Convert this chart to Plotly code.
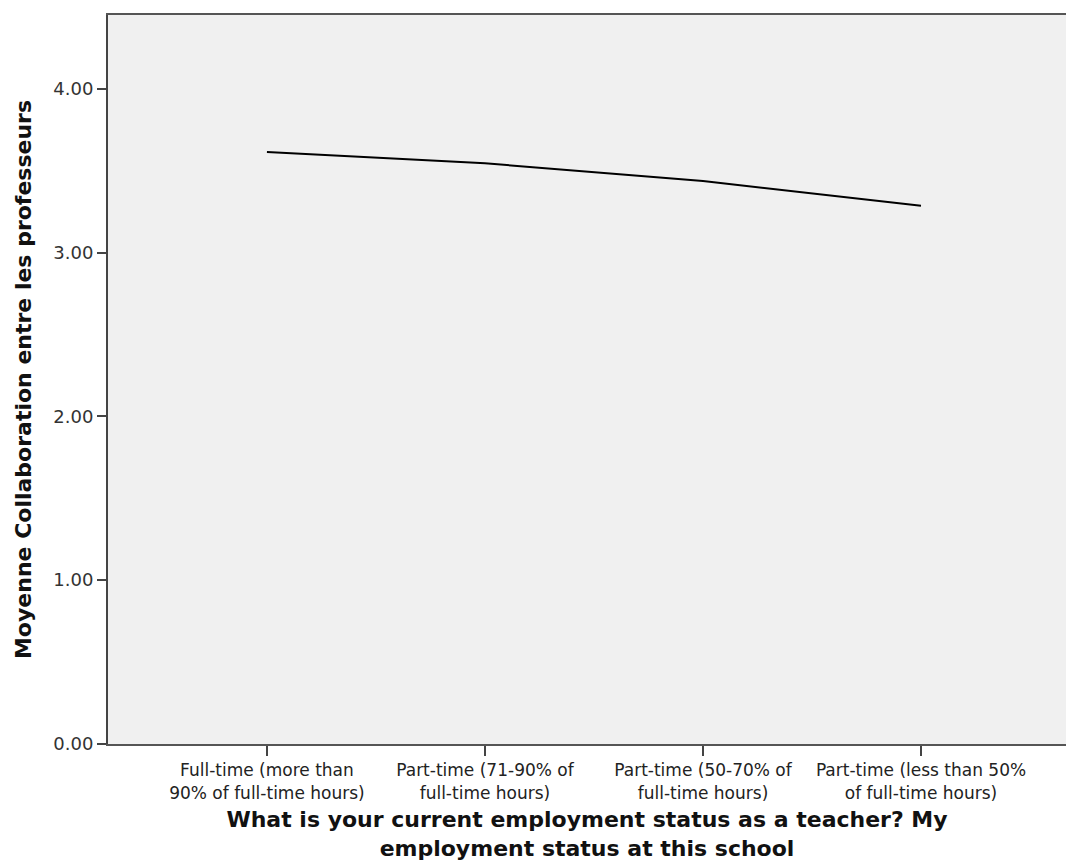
import plotly.graph_objects as go

categories = [
    "Full-time (more than<br>90% of full-time hours)",
    "Part-time (71-90% of<br>full-time hours)",
    "Part-time (50-70% of<br>full-time hours)",
    "Part-time (less than 50%<br>of full-time hours)",
]
means = [3.614, 3.545, 3.437, 3.285]
y_ticks = [0, 1, 2, 3, 4]
y_tick_labels = ["0.00", "1.00", "2.00", "3.00", "4.00"]

x_title = "What is your current employment status as a teacher? My<br>employment status at this school"
y_title = "Moyenne Collaboration entre les professeurs"

fig = go.Figure()
fig.add_trace(go.Scatter(
    x=list(range(len(categories))),
    y=means,
    mode="lines",
    line=dict(color="#000000", width=2),
    showlegend=False,
    hoverinfo="skip",
))

font_family = "DejaVu Sans"
fig.update_layout(
    width=1066,
    height=865,
    margin=dict(l=108, r=0, t=15, b=121),
    paper_bgcolor="white",
    plot_bgcolor="#f0f0f0",
    font=dict(family=font_family, color="#222222"),
    xaxis=dict(
        range=[-0.729, 3.665],
        tickmode="array",
        tickvals=list(range(len(categories))),
        ticktext=categories,
        ticks="outside",
        ticklen=10,
        tickwidth=2,
        tickcolor="#444444",
        tickfont=dict(size=17, family=font_family, color="#222222"),
        showline=True,
        linecolor="#555555",
        linewidth=2,
        mirror=True,
        showgrid=False,
        zeroline=False,
        title=dict(text="<b>" + x_title + "</b>",
                   font=dict(size=22, family=font_family, color="#111111"), standoff=10),
    ),
    yaxis=dict(
        range=[0, 4.45],
        tickmode="array",
        tickvals=y_ticks,
        ticktext=y_tick_labels,
        ticks="outside",
        ticklen=9,
        tickwidth=2,
        tickcolor="#444444",
        tickfont=dict(size=18, family=font_family, color="#333333"),
        showline=True,
        linecolor="#444444",
        linewidth=2,
        mirror=False,
        showgrid=False,
        zeroline=False,
        title=dict(text="<b>" + y_title + "</b>",
                   font=dict(size=22, family=font_family, color="#111111"), standoff=16),
    ),
)

fig.write_html(
    "out.html",
    config={"displayModeBar": False},
    post_script="document.body.style.margin='0';document.body.style.overflow='hidden';",
)
